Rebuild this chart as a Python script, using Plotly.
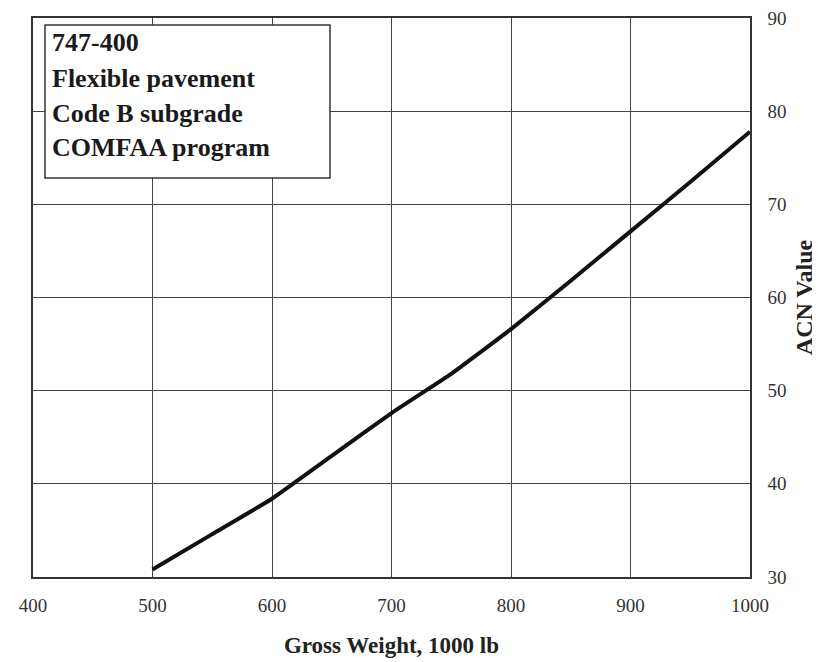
import plotly.graph_objects as go

gross_weight = [500, 550, 600, 650, 700, 750, 800, 850, 900, 950, 1000]
acn_value = [30.8, 34.6, 38.4, 43.0, 47.6, 51.8, 56.6, 61.8, 67.1, 72.4, 77.8]

x_ticks = [400, 500, 600, 700, 800, 900, 1000]
y_ticks = [30, 40, 50, 60, 70, 80, 90]
label_lines = ["747-400", "Flexible pavement", "Code B subgrade", "COMFAA program"]

OFF = 8  # page body margin
W, H = 820 - OFF, 662 - OFF
ML, MT = 33 - OFF, 18 - OFF
MR = W - (750 - OFF)
MB = H - (577 - OFF)
pw, ph = W - ML - MR, H - MT - MB

def px(x):
    return (x - OFF - ML) / pw

def py(y):
    return 1 - (y - OFF - MT) / ph

FONT = "Liberation Serif"

fig = go.Figure()
fig.add_trace(go.Scatter(x=gross_weight, y=acn_value, mode="lines",
                         line=dict(color="#111111", width=4, shape="spline", smoothing=0.3),
                         showlegend=False, hoverinfo="x+y"))

fig.update_layout(
    width=W, height=H,
    margin=dict(l=ML, r=MR, t=MT, b=MB, autoexpand=False),
    paper_bgcolor="white", plot_bgcolor="white",
    font=dict(family=FONT, color="#222222"),
    xaxis=dict(range=[400, 1000], tickvals=x_ticks, showgrid=True, automargin=False,
               gridcolor="#444444", gridwidth=1, showline=True, linecolor="#333333",
               linewidth=1.5, mirror=True, zeroline=False, ticks="",
               ticklabelstandoff=10, ticklabeloverflow="allow",
               tickfont=dict(size=19, family=FONT, color="#333333"),
               title=dict(text="<b>Gross Weight, 1000 lb</b>", standoff=22,
                          font=dict(size=23, family=FONT, color="#222222"))),
    yaxis=dict(range=[30, 90], tickvals=y_ticks, side="right", showgrid=True, automargin=False,
               gridcolor="#444444", gridwidth=1, showline=True, linecolor="#333333",
               linewidth=1.5, mirror=True, zeroline=False, ticks="",
               ticklabelstandoff=12, ticklabeloverflow="allow",
               tickfont=dict(size=19, family=FONT, color="#333333"),
               title=dict(text="<b>ACN Value</b>", standoff=10,
                          font=dict(size=24, family=FONT, color="#222222"))),
)

fig.add_shape(type="rect", xref="paper", yref="paper",
              x0=px(45), x1=px(330), y0=py(178), y1=py(25),
              line=dict(color="#333333", width=1.5), fillcolor="white", layer="above")

line_y = [43, 78, 113, 148]
for txt, yy in zip(label_lines, line_y):
    fig.add_annotation(text="<b>" + txt + "</b>", xref="paper", yref="paper",
                       x=px(50), y=py(yy), xanchor="left", yanchor="middle",
                       showarrow=False, font=dict(size=26, family=FONT, color="#1a1a1a"))

fig.write_html("out.html")
